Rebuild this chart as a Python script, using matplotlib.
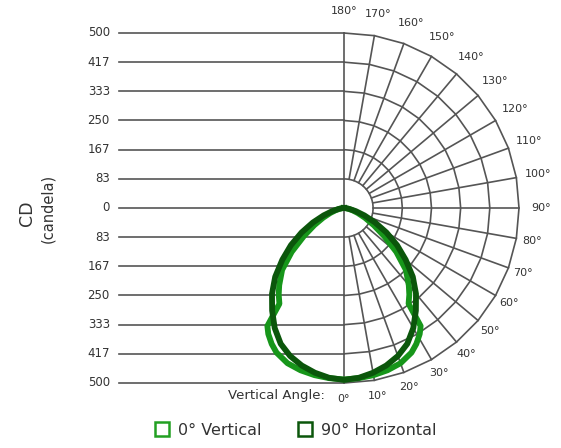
import numpy as np
import matplotlib
matplotlib.use("Agg")
import matplotlib.pyplot as plt
from matplotlib.lines import Line2D

# candela scale rings and their printed labels
ring_values = [83.33, 166.67, 250.0, 333.33, 416.67, 500.0]
ring_labels = ["83", "167", "250", "333", "417", "500"]

# vertical angles of the grid / labels (0 = straight down)
grid_angles = list(range(0, 190, 10))
angle_labels = ["%d\u00b0" % a for a in grid_angles]

# 0 deg vertical plane
vert_angles = [0, 5, 10, 15, 20, 25, 28, 31, 33, 34, 37, 40, 45, 50, 55, 60, 65, 70, 75, 80, 85, 90]
vert_cd = [490, 488, 485, 480, 472, 456, 440, 420, 402, 330, 310, 288, 250, 195, 140, 98, 66, 42, 25, 12, 4, 0]

# 90 deg horizontal plane
horz_angles = [0, 5, 10, 15, 20, 25, 30, 35, 40, 45, 50, 55, 60, 65, 70, 75, 80, 85, 90]
horz_cd = [491, 487, 478, 466, 450, 428, 396, 358, 320, 278, 230, 185, 140, 98, 62, 35, 16, 5, 0]

light = "#17961a"
dark = "#0b560b"
grid_col = "#555555"
txt_col = "#333333"
font = "DejaVu Sans"


def to_xy(angles, r, side=1):
    t = np.radians(np.asarray(angles, dtype=float))
    r = np.asarray(r, dtype=float)
    return side * r * np.sin(t), -r * np.cos(t)


def full_curve(angles, cd):
    xr, yr = to_xy(angles, cd, 1)
    xl, yl = to_xy(angles, cd, -1)
    return np.concatenate([xl[::-1], xr]), np.concatenate([yl[::-1], yr])


fig = plt.figure(figsize=(5.61, 4.48), dpi=100)
ax = fig.add_axes([0, 0, 1, 1])
# 1 candela = 0.35 px, centre of the polar plot at pixel (344, 208)
px = 0.35
ax.set_xlim(-344 / px, (561 - 344) / px)
ax.set_ylim((208 - 448) / px, 208 / px)
ax.axis("off")

# left side horizontal scale lines
left_len = 643
for v, lab in zip(ring_values, ring_labels):
    for s in (1, -1):
        ax.plot([-left_len, 0], [s * v, s * v], color=grid_col, lw=1.2, zorder=1)
        ax.text(-669, s * v, lab, ha="right", va="center", fontsize=8.5, color=txt_col, family=font)
ax.plot([-left_len, 0], [0, 0], color=grid_col, lw=1.2, zorder=1)
ax.text(-669, 0, "0", ha="right", va="center", fontsize=8.5, color=txt_col, family=font)
ax.plot([0, 0], [-500, 500], color=grid_col, lw=1.2, zorder=1)

# polar grid on the right (drawn as 10 degree chords)
for v in ring_values:
    gx, gy = to_xy(grid_angles, [v] * len(grid_angles))
    ax.plot(gx, gy, color=grid_col, lw=1.2, zorder=1)
for a in grid_angles[1:-1]:
    gx, gy = to_xy([a, a], [ring_values[0], ring_values[-1]])
    ax.plot(gx, gy, color=grid_col, lw=1.2, zorder=1)

# angle labels
for a, lab in zip(grid_angles, angle_labels):
    rl = 545 if a <= 80 else 563
    lx, ly = to_xy([a], [rl])
    ax.text(lx[0], ly[0], lab, ha="center", va="center", fontsize=8, color=txt_col, family=font)

ax.text(-54, -536, "Vertical Angle:", ha="right", va="center", fontsize=9.5, color=txt_col, family=font)

# curves
vx, vy = full_curve(vert_angles, vert_cd)
ax.plot(vx, vy, color=light, lw=4.2, solid_joinstyle="round", zorder=3)
hx, hy = full_curve(horz_angles, horz_cd)
ax.plot(hx, hy, color=dark, lw=4.2, solid_joinstyle="round", zorder=4)

# axis title
ax.text(-906, -14, "CD", rotation=90, ha="center", va="center", fontsize=12.5, color=txt_col, family=font)
ax.text(-846, 0, "(candela)", rotation=90, ha="center", va="center", fontsize=10.5, color=txt_col, family=font)

handles = [
    Line2D([], [], ls="none", marker="s", ms=10.5, mfc="none", mec="#22a022", mew=1.8),
    Line2D([], [], ls="none", marker="s", ms=10.5, mfc="none", mec=dark, mew=1.8),
]
fig.legend(handles, ["0\u00b0 Vertical", "90\u00b0 Horizontal"], loc="center",
           bbox_to_anchor=(295 / 561, 1 - 430 / 448), ncol=2, frameon=False,
           handlelength=1.0, handletextpad=0.5, columnspacing=2.2,
           prop={"family": font, "size": 11.5}, labelcolor=txt_col)

fig.savefig("out.png", dpi=100)
